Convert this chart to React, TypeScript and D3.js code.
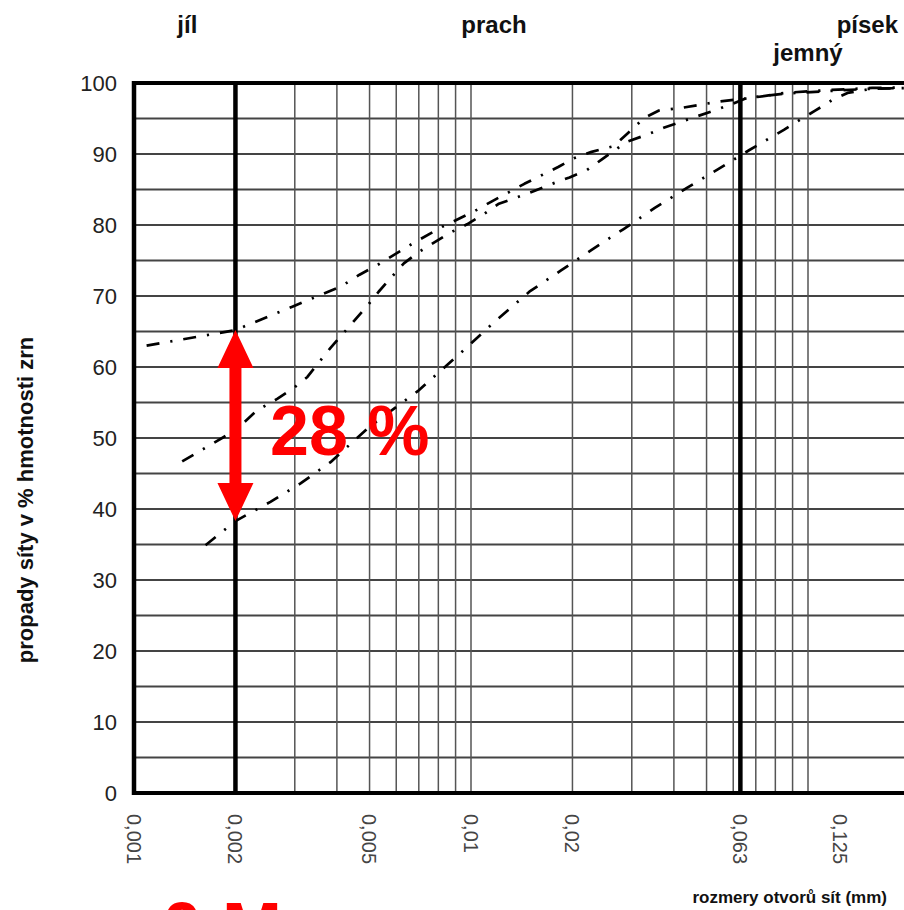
import React from "react";
import * as d3 from "d3";

// ---- data ----
const sizesA = [0.00109, 0.002, 0.00295, 0.0041, 0.00467, 0.00529, 0.00586, 0.00677, 0.00825, 0.0102, 0.0115, 0.0144, 0.0182, 0.0202, 0.0228, 0.0265, 0.0293, 0.0327, 0.036, 0.0422, 0.0547, 0.068, 0.085, 0.114, 0.155, 0.2];
const passA = [63.0, 65.2, 68.5, 71.3, 73.0, 74.4, 75.7, 77.5, 79.8, 81.9, 83.3, 85.8, 88.2, 89.4, 90.3, 91.1, 93.0, 95.1, 96.1, 96.5, 97.4, 97.9, 98.6, 99.0, 99.3, 99.4];

const sizesB = [0.00139, 0.002, 0.00232, 0.00266, 0.00297, 0.00327, 0.00353, 0.00383, 0.00419, 0.00452, 0.00494, 0.00532, 0.00582, 0.00632, 0.00695, 0.00866, 0.00973, 0.0109, 0.0121, 0.0137, 0.0154, 0.0174, 0.0196, 0.022, 0.0244, 0.0289, 0.0332, 0.0373, 0.0442, 0.054, 0.0606, 0.0658, 0.085, 0.118, 0.155, 0.2];
const passB = [46.7, 51.1, 53.9, 55.5, 57.0, 58.6, 60.6, 62.7, 64.8, 66.6, 68.7, 70.6, 72.7, 74.6, 76.1, 78.9, 80.1, 81.5, 83.0, 83.9, 84.8, 85.8, 86.7, 87.7, 89.2, 91.7, 92.7, 93.7, 94.9, 96.3, 97.2, 97.9, 98.5, 98.9, 99.2, 99.3];

const sizesC = [0.00163, 0.002, 0.00254, 0.00312, 0.00383, 0.005, 0.00695, 0.00953, 0.0119, 0.0149, 0.0185, 0.0228, 0.0283, 0.0351, 0.0436, 0.0543, 0.0672, 0.0848, 0.0946, 0.105, 0.118, 0.131, 0.155, 0.2];
const passC = [34.9, 38.3, 41.0, 43.6, 46.6, 51.6, 56.6, 62.4, 66.6, 70.6, 73.6, 76.5, 79.4, 82.4, 85.2, 87.9, 90.6, 93.4, 94.8, 96.1, 97.6, 98.6, 99.2, 99.3];

const xTickValues = [0.001, 0.002, 0.005, 0.01, 0.02, 0.063, 0.125];
const xTickLabels = ["0,001", "0,002", "0,005", "0,01", "0,02", "0,063", "0,125"];
const yTickValues = [0, 10, 20, 30, 40, 50, 60, 70, 80, 90, 100];
const yGridValues = d3.range(0, 101, 5);
const boundarySizes = [0.002, 0.063];

const fractionNames = ["jíl", "prach", "písek"];
const fractionAt = [0.00144, 0.0117, 0.15];
const subFractionName = "jemný";
const subFractionAt = [0.1];

const yTitle = "propady síty v % hmotnosti zrn";
const xTitle = "rozmery otvorů sít (mm)";
const diffLabel = "28 %";
const bottomLabel = "0,M";

const W = 904;
const H = 910;
const FONT = "'Liberation Sans', Arial, sans-serif";

export default function App() {
  const x = d3
    .scaleLog()
    .domain([0.001, 0.2])
    .range([134, 134 + 337 * Math.log10(200)]);
  const y = d3.scaleLinear().domain([0, 100]).range([793, 83]);

  const gridX = x.ticks().filter((v) => !boundarySizes.some((b) => Math.abs(b - v) < 1e-9));

  const line = d3
    .line<[number, number]>()
    .x((d) => x(d[0]))
    .y((d) => y(d[1]));

  const series = [
    sizesA.map((s, i) => [s, passA[i]] as [number, number]),
    sizesB.map((s, i) => [s, passB[i]] as [number, number]),
    sizesC.map((s, i) => [s, passC[i]] as [number, number]),
  ];

  // arrow between curve A and curve C at 0,002
  const ax = x(0.002);
  const yTop = y(passA[1]);
  const yBot = y(passC[1]);
  const headL = 38;
  const headW = 18;
  const shaftW = 6;
  const arrowPath = [
    `M${ax},${yTop}`,
    `L${ax + headW},${yTop + headL}`,
    `L${ax + shaftW},${yTop + headL}`,
    `L${ax + shaftW},${yBot - headL}`,
    `L${ax + headW},${yBot - headL}`,
    `L${ax},${yBot}`,
    `L${ax - headW},${yBot - headL}`,
    `L${ax - shaftW},${yBot - headL}`,
    `L${ax - shaftW},${yTop + headL}`,
    `L${ax - headW},${yTop + headL}`,
    "Z",
  ].join(" ");

  const x0 = 134;
  const xR = W;

  return (
    <svg
      width={W}
      height={H}
      viewBox={`0 0 ${W} ${H}`}
      style={{ position: "absolute", left: 0, top: 0, background: "#fff", overflow: "hidden" }}
      fontFamily={FONT}
    >
      <rect x={0} y={0} width={W} height={H} fill="#fff" />
      {/* horizontal grid */}
      {yGridValues.map((v) => (
        <line key={"h" + v} x1={x0} x2={xR} y1={y(v)} y2={y(v)} stroke="#444" strokeWidth={1.8} />
      ))}
      {/* vertical grid */}
      {gridX.map((v) => (
        <line key={"v" + v} x1={x(v)} x2={x(v)} y1={y(0)} y2={y(100)} stroke="#555" strokeWidth={1.5} />
      ))}
      {/* boundary lines */}
      {boundarySizes.map((v) => (
        <line key={"b" + v} x1={x(v)} x2={x(v)} y1={y(0)} y2={y(100)} stroke="#000" strokeWidth={4.5} />
      ))}
      {/* frame */}
      <line x1={x0} x2={x0} y1={y(0) + 2} y2={y(100) - 2} stroke="#000" strokeWidth={4.5} />
      <line x1={x0 - 2} x2={xR} y1={y(100)} y2={y(100)} stroke="#000" strokeWidth={4} />
      <line x1={x0 - 2} x2={xR} y1={y(0)} y2={y(0)} stroke="#000" strokeWidth={4} />

      {/* curves */}
      {series.map((s, i) => (
        <path
          key={"c" + i}
          d={line(s) || ""}
          fill="none"
          stroke="#000"
          strokeWidth={2.7}
          strokeDasharray="13 11 2.2 11"
          strokeLinecap="butt"
          strokeLinejoin="round"
        />
      ))}

      {/* y ticks */}
      {yTickValues.map((v) => (
        <text key={"yt" + v} x={117} y={y(v)} dy="0.36em" textAnchor="end" fontSize={22} fill="#222">
          {v}
        </text>
      ))}
      {/* x ticks */}
      {xTickValues.map((v, i) => (
        <text
          key={"xt" + v}
          transform={`translate(${x(v)},814) rotate(90)`}
          dy="0.36em"
          textAnchor="start"
          fontSize={20}
          fill="#444"
        >
          {xTickLabels[i]}
        </text>
      ))}

      {/* fraction names */}
      {fractionNames.map((n, i) => (
        <text key={"f" + n} x={x(fractionAt[i])} y={33} textAnchor="middle" fontSize={24} fontWeight="bold" fill="#111">
          {n}
        </text>
      ))}
      <text x={x(subFractionAt[0])} y={61} textAnchor="middle" fontSize={24} fontWeight="bold" fill="#111">
        {subFractionName}
      </text>

      {/* axis titles */}
      <text
        transform={`translate(33,500) rotate(-90)`}
        textAnchor="middle"
        fontSize={22}
        fontWeight="bold"
        fill="#111"
      >
        {yTitle}
      </text>
      <text x={887} y={903} textAnchor="end" fontSize={17} fontWeight="bold" fill="#111">
        {xTitle}
      </text>

      {/* red annotation */}
      <path d={arrowPath} fill="#ff0000" />
      <text x={270} y={455} fontSize={70} fontWeight="bold" fill="#ff0000">
        {diffLabel}
      </text>
      <text x={162} y={953} fontSize={72} fontWeight="bold" fill="#ff0000">
        {bottomLabel}
      </text>
    </svg>
  );
}
